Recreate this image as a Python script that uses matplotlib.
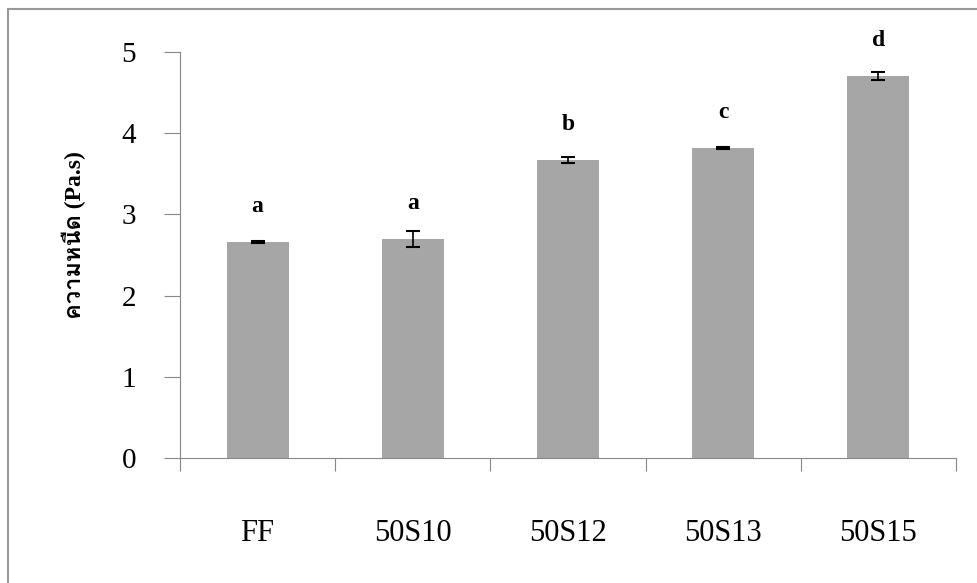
import matplotlib
matplotlib.use("Agg")
import matplotlib.pyplot as plt
from matplotlib import font_manager
from matplotlib.ft2font import FT2Font
from matplotlib.lines import Line2D

# viscosity of the samples
samples = ["FF", "50S10", "50S12", "50S13", "50S15"]
viscosity = [2.66, 2.70, 3.67, 3.82, 4.70]
errors = [0.01, 0.10, 0.04, 0.01, 0.05]
letters = ["a", "a", "b", "c", "d"]
ylabel = "ความหนืด (Pa.s)"


def find_thai_family():
    # look for any installed font that really has thai glyphs
    for f in font_manager.fontManager.ttflist:
        try:
            ft = FT2Font(f.fname)
            if all(ft.get_char_index(ord(c)) != 0 for c in "ความหนืด"):
                return f.name
        except Exception:
            pass
    return None


plt.rcParams['font.family'] = ['Liberation Serif', 'DejaVu Serif', 'DejaVu Sans']

fig = plt.figure(figsize=(9.78, 5.83), dpi=100)
ax = fig.add_axes([0.184, 0.2144, 0.7935, 0.6964])

x = list(range(len(samples)))
ax.bar(x, viscosity, width=0.4, color="#a6a6a6", zorder=2)
ax.errorbar(x, viscosity, yerr=errors, fmt="none", ecolor="black",
            elinewidth=1.2, capsize=5, capthick=1.5, zorder=3)

for i in x:
    ax.text(i, viscosity[i] + 0.44, letters[i], ha="center", va="center",
            fontsize=17, fontweight="bold", clip_on=False)

ax.set_xlim(-0.5, 4.5)
ax.set_ylim(0, 5)
ax.set_yticks([0, 1, 2, 3, 4, 5])
ax.set_yticklabels(["0", "1", "2", "3", "4", "5"], fontsize=21)
ax.tick_params(axis="y", direction="out", length=11.5, width=0.8, color="#888888", pad=20)

# category separators on x axis, labels in between
ax.set_xticks([i - 0.5 for i in range(len(samples) + 1)])
ax.set_xticklabels([])
ax.tick_params(axis="x", which="major", direction="out", length=9.5, width=0.8, color="#888888")
ax.set_xticks(x, minor=True)
ax.set_xticklabels(samples, minor=True, fontsize=22)
ax.tick_params(axis="x", which="minor", length=0, pad=44)

for s in ["top", "right"]:
    ax.spines[s].set_visible(False)
for s in ["left", "bottom"]:
    ax.spines[s].set_color("#888888")
    ax.spines[s].set_linewidth(0.8)

thai = find_thai_family()
fams = ['Liberation Serif', 'DejaVu Sans']
if thai:
    fams = ['Liberation Serif', thai, 'DejaVu Sans']
ax.set_ylabel(ylabel, fontsize=17, fontweight="bold", family=fams)
ax.yaxis.set_label_coords(-0.121, 0.548)

# frame around the figure (only top and left visible in the picture)
fig.add_artist(Line2D([8 / 978, 1], [1 - 9 / 583, 1 - 9 / 583], color="#999999", lw=1.5))
fig.add_artist(Line2D([8 / 978, 8 / 978], [0, 1 - 9 / 583], color="#999999", lw=1.5))

fig.savefig("out.png", dpi=100, facecolor="white")
